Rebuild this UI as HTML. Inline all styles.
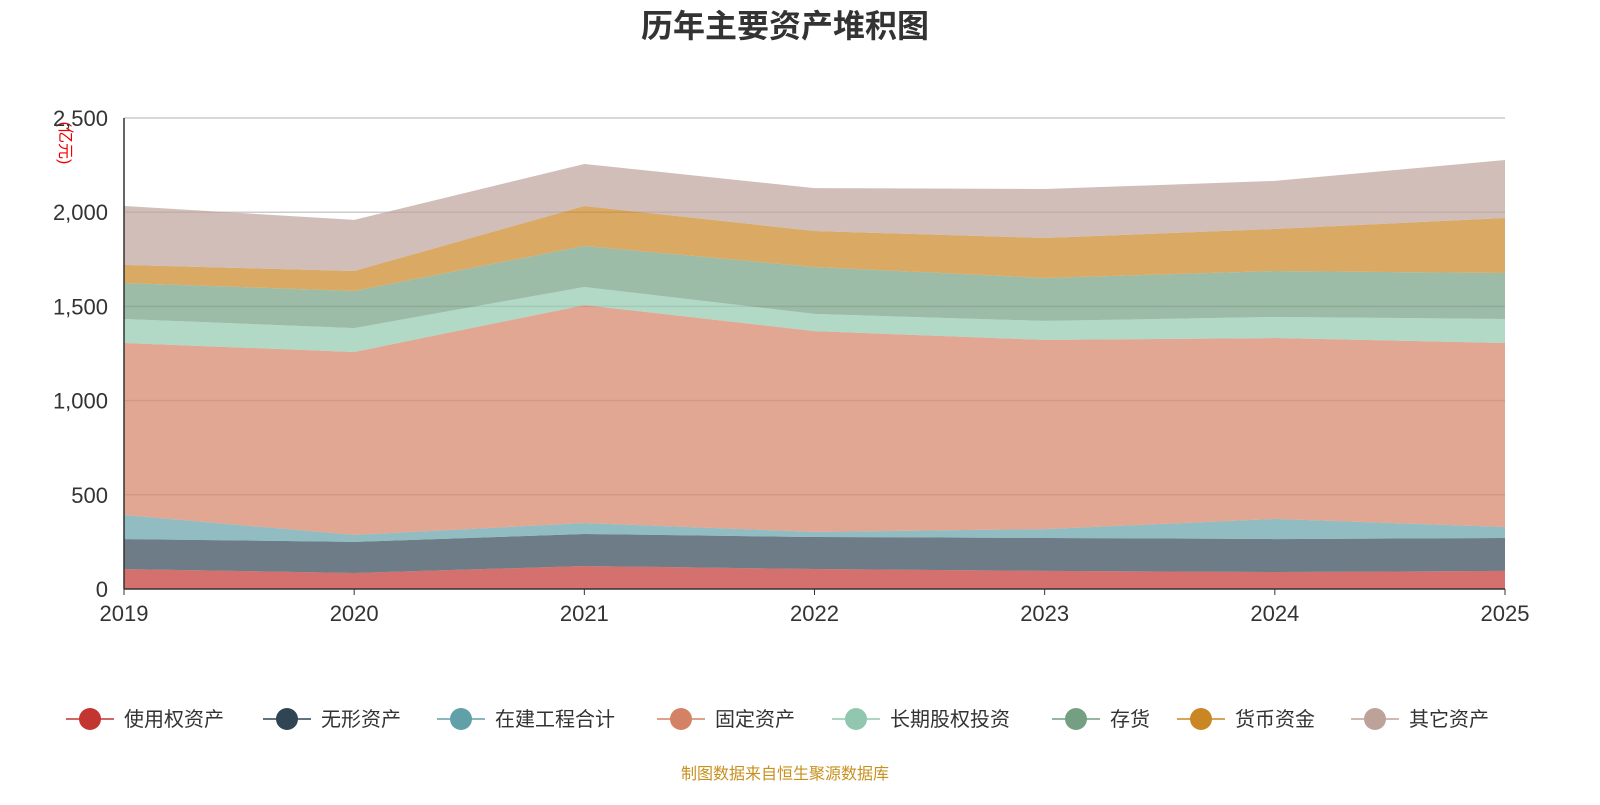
<!DOCTYPE html>
<html><head><meta charset="utf-8"><style>
body{margin:0;background:#fff;font-family:"Liberation Sans","Noto Sans CJK SC",sans-serif;}
svg text{font-family:"Liberation Sans","Noto Sans CJK SC",sans-serif;}
</style></head><body>
<svg id="c" width="1600" height="800" xmlns="http://www.w3.org/2000/svg">
<text x="785" y="37" text-anchor="middle" font-size="32" font-weight="bold" fill="#333">历年主要资产堆积图</text>
<text transform="translate(60,143) rotate(90)" text-anchor="middle" font-size="16" fill="#e00">(亿元)</text>
<g id="grid"></g><g id="areas"></g><g id="axes"></g><g id="legend"></g>
<text x="785" y="779" text-anchor="middle" font-size="16" fill="#c8901e">制图数据来自恒生聚源数据库</text>
</svg>
<script>
const years=["2019","2020","2021","2022","2023","2024","2025"];
const seriesNames=["使用权资产","无形资产","在建工程合计","固定资产","长期股权投资","存货","货币资金","其它资产"];
const s1=[106,85,122,106,96,90,96];
const s2=[159,165,170,170,175,175,175];
const s3=[128,37,58,27,47,107,58];
const s4=[913,971,1157,1066,1004,960,977];
const s5=[127,127,96,91,101,112,127];
const s6=[191,197,218,249,228,244,244];
const s7=[96,106,212,191,212,223,292];
const s8=[313,271,223,228,260,255,308];
const yTicks=[0,500,1000,1500,2000,2500];
const yTickLabels=["0","500","1,000","1,500","2,000","2,500"];
const colors=["#c23531","#2f4554","#61a0a8","#d48265","#91c7ae","#749f83","#ca8622","#bda29a"];
const NS="http://www.w3.org/2000/svg";
const x0=124,x1=1505,y0=589,y1=118,ymax=2500;
const X=i=>x0+(x1-x0)*i/(years.length-1);
const Y=v=>y0-(y0-y1)*v/ymax;
function mk(t,a,p){const e=document.createElementNS(NS,t);for(const k in a)e.setAttribute(k,a[k]);p.appendChild(e);return e;}
const grid=document.getElementById('grid'),areas=document.getElementById('areas'),axes=document.getElementById('axes'),leg=document.getElementById('legend');
yTicks.forEach((v,i)=>{
 if(v>0){const l=mk('line',{x1:x0,x2:x1,y1:Y(v),y2:Y(v),stroke:'#ccc','stroke-width':1.5},grid);
 
 }
 const t=mk('text',{x:x0-16,y:Y(v)+8,'text-anchor':'end','font-size':22,fill:'#333'},axes);t.textContent=yTickLabels[i];
 
 
});
const all=[s1,s2,s3,s4,s5,s6,s7,s8];
let base=years.map(()=>0);
all.forEach((s,k)=>{
 const top=base.map((b,i)=>b+s[i]);
 let d='M'+years.map((_,i)=>X(i)+','+Y(top[i])).join(' L');
 for(let i=years.length-1;i>=0;i--)d+=' L'+X(i)+','+Y(base[i]);
 const p=mk('path',{d:d+'Z',fill:colors[k],'fill-opacity':0.7},areas);
 
 
 base=top;
});
const ax=mk('line',{x1:x0,x2:x1,y1:y0,y2:y0,stroke:'#333','stroke-width':1.5},axes);


const ay=mk('line',{x1:x0,x2:x0,y1:y0,y2:y1,stroke:'#333','stroke-width':1.5},axes);


years.forEach((y,i)=>{
 mk('line',{x1:X(i),x2:X(i),y1:y0,y2:y0+6,stroke:'#333'},axes);
 const t=mk('text',{x:X(i),y:621,'text-anchor':'middle','font-size':22,fill:'#333'},axes);t.textContent=y;
 
 
});
const legX=[66,263,437,657,832,1052,1177,1351];
seriesNames.forEach((n,k)=>{
 const g=mk('g',{},leg);
 
 
 mk('line',{x1:legX[k],x2:legX[k]+48,y1:719,y2:719,stroke:colors[k],'stroke-width':1.5},g);
 mk('circle',{cx:legX[k]+24,cy:719,r:11,fill:colors[k]},g);
 const t=mk('text',{x:legX[k]+58,y:726,'font-size':20,fill:'#333'},g);t.textContent=n;
});
</script>
</body></html>
